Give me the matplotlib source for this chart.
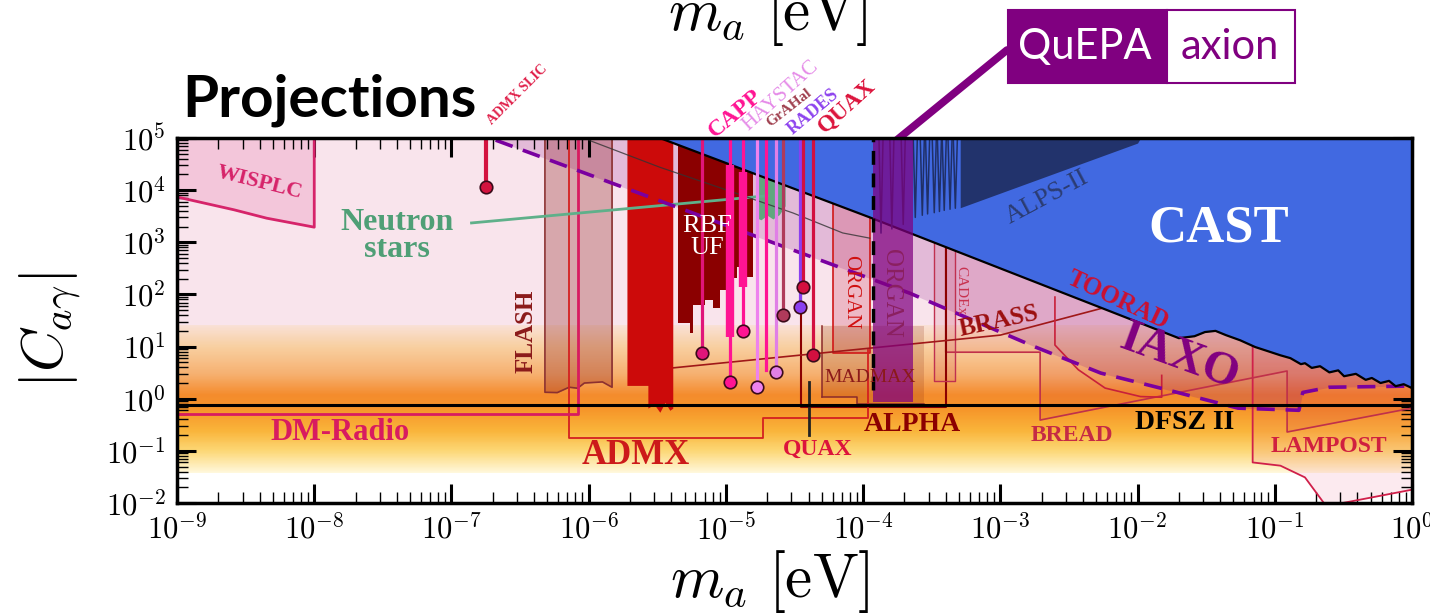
import numpy as np
import matplotlib
matplotlib.use('Agg')
import matplotlib.pyplot as plt
from matplotlib.colors import LinearSegmentedColormap
from matplotlib.ticker import LogLocator, FuncFormatter, NullFormatter
from matplotlib.patches import Rectangle

plt.rcParams['mathtext.fontset'] = 'cm'
plt.rcParams['font.family'] = ['Liberation Serif', 'DejaVu Serif']

# ---------------- data (m_a in eV, |C_ag|) ----------------
band_c = [0.037, 0.1, 0.25, 0.6, 1.2, 3.0, 10.0, 26.0]
band_colors = ['#fff8dc', '#fcd673', '#f9b43a', '#f6972a', '#f48b2c', '#f6b070', '#f8cfa0', '#f9e0d6']
dfsz_c = 0.75

wisplc_m = [1e-9, 2.6e-9, 4.5e-9, 1e-8]
wisplc_c = [7400, 4200, 2900, 1950]

dmradio_m = [1e-9, 8.3e-7, 8.3e-7]
dmradio_c = [0.52, 0.52, 1e5]

slic_m, slic_c = 1.8e-7, 1.15e4

flash_m = [4.8e-7, 5.9e-7, 7.2e-7, 8.3e-7, 9.3e-7, 1.26e-6, 1.48e-6]
flash_c = [1.33, 1.31, 1.66, 1.59, 2.0, 2.1, 1.66]

admx_m = [1.9e-6, 2.7e-6, 2.7e-6, 3.0e-6, 3.3e-6, 3.6e-6, 3.9e-6, 4.1e-6]
admx_c = [1.8, 1.8, 0.66, 0.78, 0.55, 0.85, 0.6, 0.66]
admx_proj_m = [7.2e-7, 7.2e-7, 1.87e-5, 1.87e-5, 1.09e-4, 1.09e-4]
admx_proj_c = [1e5, 0.18, 0.18, 0.42, 0.42, 8.5]

rbf_m = [4.5e-6, 5.5e-6, 5.8e-6, 7.0e-6, 8.1e-6, 9.1e-6, 1.02e-5, 1.21e-5, 1.43e-5, 1.58e-5]
rbf_c = [28, 18, 62, 78, 55, 120, 204, 330, 214, 214]

halo_m = [6.7e-6, 1.07e-5, 1.33e-5, 1.69e-5, 1.96e-5, 2.32e-5, 2.61e-5, 3.48e-5, 3.65e-5, 4.32e-5]
halo_c = [7.4, 2.1, 20.0, 1.7, 3.5, 3.2, 40.0, 57.0, 138.0, 6.8]
halo_colors = ['#e0157a', '#ff1493', '#ff1493', '#ee82ee', '#ff1493', '#e07fe6',
               '#b03a5b', '#8a3ff0', '#d31040', '#d31040']
halo_dot = [True, True, True, True, False, True, True, True, True, True]
bar_m = [1.07e-5, 1.33e-5]
bar_top = [3.0e4, 2.2e4]
bar_bottom = [15.0, 140.0]

ns_m = [1.65e-5, 1.8e-5, 2.0e-5, 2.2e-5, 2.45e-5, 2.7e-5]
ns_c = [3000, 2700, 3300, 2800, 3400, 5000]
ns_line_m = [1.4e-7, 2.0e-5]
ns_line_c = [2350, 7800]

iaxo_m = [2.1e-7, 2.2e-4, 1.8e-3, 5.4e-3, 1.7e-2, 5.4e-2, 0.15, 0.16, 0.25, 1.0]
iaxo_c = [9.1e4, 105, 9.8, 3.1, 1.45, 0.66, 0.60, 1.32, 1.66, 1.75]

cast_m = [3.3e-6, 1.12e-4, 2.0e-2, 2.6e-2, 3.1e-2, 3.7e-2, 4.4e-2, 5.6e-2, 7.2e-2, 8.5e-2,
          0.11, 0.13, 0.155, 0.166, 0.186, 0.214, 0.25, 0.29, 0.32, 0.39, 0.46, 0.51,
          0.59, 0.68, 0.76, 0.87, 1.0]
cast_c = [1e5, 3000, 14.5, 15.8, 19, 20, 16.6, 13.2, 9.8, 8.5,
          6.8, 6.0, 4.6, 4.8, 3.9, 4.2, 3.2, 3.5, 2.7, 3.0, 2.3, 2.5,
          2.0, 2.2, 1.74, 1.9, 1.6]

alps_m = [5.1e-4, 1.0e-2, 1.05e-2]
alps_c = [4600, 8e4, 1e5]
alps_res_m = [1.35e-4, 1.62e-4, 1.96e-4, 2.4e-4, 2.7e-4, 2.95e-4, 3.3e-4, 3.6e-4, 3.9e-4, 4.3e-4, 4.7e-4]
alps_res_c = [1500, 1800, 2200, 3000, 3300, 3500, 3700, 3900, 4100, 4300, 4500]

thin_m = [1.0e-6, 3.3e-6, 1.02e-5, 3.1e-5, 7.1e-5, 1.12e-4]
thin_c = [9.1e4, 2.75e4, 1.0e4, 3630, 1510, 1200]

quepa_m = [1.18e-4, 2.3e-4]
quepa_c = [0.85, 1e5]
quepa_dash_c = [1.5, 1e5]

organ_m = [6.0e-5, 1.12e-4]
organ_c = 7.4
madmax_m = [5.0e-5, 9.1e-5, 2.8e-4]
madmax_c = [1.07, 0.78, 0.78]
madmax_top = 25
alpha_m = [3.5e-5, 4.0e-4]
alpha_c = 0.69
cadex_m = [3.3e-4, 4.7e-4]
cadex_c = 2.2
bread_m = [4.0e-4, 1.95e-3, 1.95e-3, 0.123, 0.123, 1.0]
bread_c = [7.8, 7.8, 0.39, 3.4, 0.23, 0.66]
lampost_m = [6.9e-2, 6.9e-2, 0.11, 0.166, 0.237, 1.0]
lampost_c = [13, 0.060, 0.052, 0.031, 0.0087, 0.018]
brass_m = [4.1e-6, 1.0e-3, 5.6e-3]
brass_c = [3.9, 16.6, 55]
arc_m = [2.5e-3, 2.5e-3, 3.7e-3, 5.8e-3, 1.05e-2, 1.5e-2, 1.5e-2]
arc_c = [89, 10.7, 3.6, 1.6, 1.1, 1.07, 2.8]
quax_m = 4.0e-5
quax_c = [2.1, 0.2]

TOP = 1e5

# ---------------- figure ----------------
fig = plt.figure(figsize=(14.3, 6.15), dpi=100)
ax = fig.add_axes([0.1238, 0.1821, 0.8636, 0.5935])
ax.set_xscale('log')
ax.set_yscale('log')
ax.set_xlim(1e-9, 1)
ax.set_ylim(1e-2, 1e5)

# background pink + QCD band gradient
ax.fill_between([1e-9, 1], band_c[-1], TOP, color='#f9e4ec', lw=0, zorder=0)
yedges = np.logspace(np.log10(band_c[0]), np.log10(band_c[-1]), 150)
ymid = np.sqrt(yedges[:-1] * yedges[1:])
lo, hi = np.log10(band_c[0]), np.log10(band_c[-1])
pos = (np.log10(band_c) - lo) / (hi - lo)
cmap = LinearSegmentedColormap.from_list('band', list(zip(pos, band_colors)))
Z = ((np.log10(ymid) - lo) / (hi - lo))[:, None]
ax.pcolormesh([1e-9, 1.0], yedges, Z, cmap=cmap, vmin=0, vmax=1, shading='flat', zorder=0.5)

# WISPLC
ax.fill_between(wisplc_m, wisplc_c, TOP, color='#f3c6da', lw=0, zorder=1)
ax.plot(wisplc_m + [wisplc_m[-1]], wisplc_c + [TOP], color='#d6246a', lw=2, zorder=2)

# LAMPOST, BREAD, IAXO shading
ax.fill_between(lampost_m, lampost_c, band_c[-1], color='#e8336a', alpha=0.1, lw=0, zorder=1)
ax.plot(lampost_m, lampost_c, color='#d0204a', lw=1.3, zorder=2)
ax.fill_between(bread_m, bread_c, TOP, color='#c8102e', alpha=0.1, lw=0, zorder=1)
ax.plot([bread_m[0]] + bread_m, [TOP] + bread_c, color='#c0304a', lw=1.2, zorder=2)
ax.fill_between(iaxo_m, iaxo_c, TOP, color='#800080', alpha=0.18, lw=0, zorder=1)

# FLASH
ax.fill_between(flash_m, flash_c, TOP, color='#8b1a1a', alpha=0.3, lw=0, zorder=1.5)
ax.plot([flash_m[0]] + flash_m + [flash_m[-1]], [TOP] + flash_c + [TOP], color='#8b3030', lw=1.2, zorder=2)

# ORGAN, MADMAX, ALPHA, CADEx boxes
ax.fill_between(organ_m, organ_c, TOP, color='#c01030', alpha=0.2, lw=0, zorder=1.5)
ax.plot([organ_m[0], organ_m[0], organ_m[1], organ_m[1]], [TOP, organ_c, organ_c, TOP],
        color='#d01818', lw=1.2, zorder=2)
ax.fill_between(madmax_m, madmax_c, madmax_top, step='post', color='#8b2a10', alpha=0.2, lw=0, zorder=1.5)
ax.step(madmax_m, madmax_c, where='post', color='#8b2a2a', lw=1.1, zorder=2)
ax.plot([madmax_m[0], madmax_m[0]], [madmax_c[0], madmax_top], color='#8b2a2a', lw=1.1, zorder=2)
ax.plot([alpha_m[0], alpha_m[0], alpha_m[1], alpha_m[1]], [TOP, alpha_c, alpha_c, TOP],
        color='#8b0000', lw=1.5, zorder=2)
ax.fill_between(cadex_m, cadex_c, TOP, color='#c03050', alpha=0.12, lw=0, zorder=1.5)
ax.plot([cadex_m[0], cadex_m[0], cadex_m[1], cadex_m[1]], [TOP, cadex_c, cadex_c, TOP],
        color='#c03050', lw=1.0, zorder=2)

# projection outlines
ax.plot(admx_proj_m, admx_proj_c, color='#d42020', lw=1.3, zorder=2)
ax.plot(dmradio_m, dmradio_c, color='#d81b60', lw=2, zorder=2)
ax.plot(brass_m, brass_c, color='#a01818', lw=1.2, zorder=2)
ax.plot(arc_m, arc_c, color='#c8203a', lw=1.2, zorder=2)
ax.plot([quax_m, quax_m], quax_c, color='#222222', lw=2, zorder=2)

# haloscope exclusions
ax.fill_between(rbf_m, rbf_c, TOP, step='post', color='#8b0000', lw=0, zorder=3)
ax.fill_between(admx_m, admx_c, TOP, color='#cc0a0a', lw=0, zorder=3)
ax.fill_between(ns_m, ns_c, TOP, color='#5fa87e', lw=0, zorder=3)
ax.plot(ns_line_m, ns_line_c, color='#5fb08a', lw=2, zorder=3.5)
ax.plot(thin_m, thin_c, color='#333333', lw=0.9, alpha=0.8, zorder=3.5)

# IAXO dashed
ax.plot(iaxo_m, iaxo_c, color='#7a00a0', lw=2.6, ls=(0, (5, 3)), zorder=3.6)

# CAST
ax.fill_between(cast_m, cast_c, TOP, color='#4169e1', lw=0, zorder=4)
ax.plot(cast_m, cast_c, color='k', lw=1.6, zorder=4.1)

# ALPS-II
ax.fill_between(alps_m, alps_c, TOP, color='#22336c', lw=0, zorder=4.2)
for m, c in zip(alps_res_m, alps_res_c):
    ax.plot([m / 1.035, m, m * 1.035], [TOP, c, TOP], color='#1f2f66', lw=1.1, zorder=4.2)

# DFSZ II
ax.axhline(dfsz_c, color='k', lw=2.2, zorder=5)

# sticks
ax.plot([slic_m, slic_m], [slic_c, TOP], color='#d3133f', lw=3, zorder=6)
ax.plot(slic_m, slic_c, 'o', ms=9, mfc='#d3133f', mec='#3a0a1a', mew=1.2, zorder=7)
for m, t, b in zip(bar_m, bar_top, bar_bottom):
    ax.plot([m, m], [b, t], color='#ff1493', lw=6, solid_capstyle='butt', zorder=5.5)
for m, c, col, dot in zip(halo_m, halo_c, halo_colors, halo_dot):
    ax.plot([m, m], [c, TOP], color=col, lw=2.3, zorder=6)
    if dot:
        ax.plot(m, c, 'o', ms=9, mfc=col, mec='#3a0a1a', mew=1.2, zorder=7)

# QuEPA band
ax.fill_between(quepa_m, quepa_c[0], quepa_c[1], color='#800080', alpha=0.72, lw=0, zorder=6.5)
ax.plot([quepa_m[0], quepa_m[0]], quepa_dash_c, color='k', lw=2.5, ls=(0, (4, 2.5)), zorder=6.6)

# ---------------- labels ----------------
def lab(m, c, s, col, size, rot=0, weight='bold', **kw):
    ax.text(m, c, s, color=col, fontsize=size, rotation=rot, fontweight=weight,
            ha='center', va='center', rotation_mode='anchor', zorder=8, **kw)

lab(4.0e-9, 1.4e4, 'WISPLC', '#d6246a', 16, -14)
lab(1.55e-8, 0.23, 'DM-Radio', '#d81b60', 22)
lab(4.0e-8, 1320, 'Neutron\nstars', '#4f9f76', 23, linespacing=0.95)
lab(3.5e-7, 20, 'FLASH', '#8b1a1a', 18, 90)
lab(7.3e-6, 1260, 'RBF\nUF', 'white', 19, weight='normal', linespacing=1.0)
lab(2.2e-6, 0.083, 'ADMX', '#cc1a1a', 25)
lab(4.7e-5, 0.107, 'QUAX', '#dc143c', 17)
lab(2.3e-4, 0.32, 'ALPHA', '#8b0000', 20)
lab(1.12e-4, 2.5, 'MADMAX', '#8b1a1a', 14, weight='normal')
lab(8.1e-5, 110, 'ORGAN', '#d01010', 15, -90, weight='normal')
lab(1.6e-4, 105, 'ORGAN', '#8a2060', 18, -90, weight='normal')
lab(5.2e-4, 120, 'CADEx', '#c83250', 11, -90, weight='normal')
lab(9.8e-4, 30, 'BRASS', '#9b0f0f', 18, 12)
lab(7.2e-3, 78, 'TOORAD', '#cc1030', 18, -25)
lab(2.0e-2, 6.0, 'IAXO', '#800080', 34, -20)
lab(2.2e-3, 7400, 'ALPS-II', '#2b3c72', 19, 28, weight='normal')
lab(3.9e-2, 1860, 'CAST', 'white', 38)
lab(3.3e-3, 0.20, 'BREAD', '#c52a45', 17)
lab(2.2e-2, 0.35, 'DFSZ II', 'black', 20)
lab(0.25, 0.123, 'LAMPOST', '#d0203f', 17)

# labels above the frame
lab(3.0e-7, 6.7e5, 'ADMX SLIC', '#e0204a', 10, 45, clip_on=False)
lab(1.17e-5, 2.9e5, 'CAPP', '#ff1493', 17, 40, clip_on=False)
lab(2.5e-5, 6.4e5, 'HAYSTAC', '#e58be8', 15, 42, weight='normal', clip_on=False)
lab(2.9e-5, 3.8e5, 'GrAHal', '#a0404f', 11, 38, clip_on=False)
lab(4.3e-5, 3.2e5, 'RADES', '#8e44ee', 13, 40, clip_on=False)
lab(7.6e-5, 4.1e5, 'QUAX', '#dc143c', 17, 42, clip_on=False)

# ---------------- axes styling ----------------
ax.xaxis.set_major_locator(LogLocator(base=10, numticks=20))
ax.yaxis.set_major_locator(LogLocator(base=10, numticks=20))
ax.xaxis.set_minor_locator(LogLocator(base=10, subs=np.arange(2, 10), numticks=200))
ax.yaxis.set_minor_locator(LogLocator(base=10, subs=np.arange(2, 10), numticks=200))
fmt = FuncFormatter(lambda v, p: r'$10^{%d}$' % round(np.log10(v)))
ax.xaxis.set_major_formatter(fmt)
ax.yaxis.set_major_formatter(fmt)
ax.xaxis.set_minor_formatter(NullFormatter())
ax.yaxis.set_minor_formatter(NullFormatter())
ax.tick_params(which='both', direction='in', top=True, right=True, zorder=10)
ax.tick_params(which='major', length=14, width=2.2, labelsize=22, pad=8)
ax.tick_params(which='minor', length=8, width=1.0)
for sp in ax.spines.values():
    sp.set_linewidth(2.5)
    sp.set_zorder(10)

fig.text(0.0357, 0.4634, r'$|C_{a\gamma}|$', fontsize=42, rotation=90, ha='center', va='center')
fig.text(0.538, 0.029, r'$m_a\ [\mathrm{eV}]$', fontsize=44, ha='center', va='baseline')
fig.text(0.537, 0.952, r'$m_a\ [\mathrm{eV}]$', fontsize=44, ha='center', va='baseline')

fig.text(0.1273, 0.8098, 'Projections', fontsize=42, fontweight='bold', family='Lato',
         ha='left', va='baseline')

# QuEPA logo
fig.patches.append(Rectangle((0.7049, 0.8650), 0.1112, 0.1187, transform=fig.transFigure,
                             facecolor='#800080', edgecolor='#800080', lw=1.5))
fig.patches.append(Rectangle((0.8161, 0.8650), 0.0895, 0.1187, transform=fig.transFigure,
                             facecolor='white', edgecolor='#800080', lw=1.5))
fig.text(0.7587, 0.9236, 'QuEPA', color='white', fontsize=30, family='Lato', ha='center', va='center')
fig.text(0.8601, 0.9236, 'axion', color='#800080', fontsize=30, family='Lato', ha='center', va='center')
ax.annotate('', xy=(1.5e-4, 6.5e4), xycoords='data', xytext=(0.7042, 0.9187),
            textcoords='figure fraction', annotation_clip=False,
            arrowprops=dict(arrowstyle='-', color='#800080', lw=5.5, shrinkA=0, shrinkB=0))

fig.savefig('out.png', dpi=100)
